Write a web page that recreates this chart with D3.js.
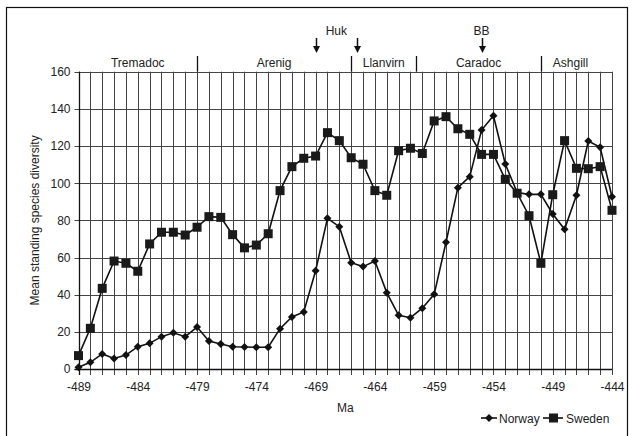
<!DOCTYPE html>
<html>
<head>
<meta charset="utf-8">
<script src="https://cdn.jsdelivr.net/npm/d3@7"></script>
<style>
  html, body { margin: 0; padding: 0; background: #fff; }
  svg { display: block; font-family: "Liberation Sans", Arial, sans-serif; }
</style>
</head>
<body>
<svg id="chart" width="634" height="436"></svg>
<script>
// Time axis (Ma) and mean standing species diversity per 1 Ma interval
const ages = d3.range(-489, -443, 1);
const norway = [0.9, 3.6, 8.1, 5.7, 7.5, 12, 13.8, 17.4, 19.5, 17.4,
                22.6, 15.1, 13.5, 12, 11.8, 11.7, 11.7, 21.7, 28, 30.7,
                52.9, 81.1, 76.6, 57.2, 55.1, 58.1, 41.1, 28.9, 27.6, 32.7,
                40.2, 68.2, 97.6, 103.5, 128.6, 136.3, 110.3, 95, 94, 94,
                83.4, 75.2, 93.5, 122.7, 119.3, 92.7];
const sweden = [7.2, 21.9, 43.4, 58.1, 56.9, 52.6, 67.3, 73.6, 73.6, 72.1,
                76.3, 82, 81.6, 72.3, 65.2, 66.7, 72.8, 96, 108.9, 113.4,
                114.6, 127.2, 122.9, 113.7, 110.2, 96, 93.5, 117.5, 118.8, 116,
                133.5, 135.8, 129.3, 126.3, 115.5, 115.5, 102.1, 94.6, 82.5, 56.9,
                93.8, 122.9, 108, 107.8, 108.9, 85.4];

const xTicks = [-489, -484, -479, -474, -469, -464, -459, -454, -449, -444];
const yTicks = [0, 20, 40, 60, 80, 100, 120, 140, 160];

// Stratigraphic series and their boundaries (Ma)
const stageBounds = [-479, -466, -460.5, -450];
const stageNames = ["Tremadoc", "Arenig", "Llanvirn", "Caradoc", "Ashgill"];
const stageEdges = [-489, -479, -466, -460.5, -450, -445];

// Event markers
const hukArrows = [-469, -465.5];
const bbArrows = [-455];

const svg = d3.select("#chart");
const x = d3.scaleLinear().domain([-489, -444]).range([78.5, 612]);
const y = d3.scaleLinear().domain([0, 160]).range([369, 71.7]);

// Outer frame
svg.append("rect")
  .attr("x", 6.5).attr("y", 7.5).attr("width", 621).attr("height", 445)
  .attr("fill", "none").attr("stroke", "#111").attr("stroke-width", 1.2);

const grid = svg.append("g").attr("stroke", "#444").attr("stroke-width", 1);
// vertical grid every 1 Ma, extending below the axis as ticks
grid.selectAll("line.v").data(ages).join("line")
  .attr("x1", d => Math.round(x(d)) + 0.5).attr("x2", d => Math.round(x(d)) + 0.5)
  .attr("y1", y(160)).attr("y2", y(0) + 6);
// horizontal grid every 20
grid.selectAll("line.h").data(yTicks).join("line")
  .attr("y1", d => Math.round(y(d)) + 0.5).attr("y2", d => Math.round(y(d)) + 0.5)
  .attr("x1", x(-489) - 4).attr("x2", x(-444));

// Axes (labels only; lines drawn separately)
const fmt = d => String(d);
const xAxis = svg.append("g").attr("transform", `translate(0,${y(0)})`)
  .call(d3.axisBottom(x).tickValues(xTicks).tickFormat(fmt).tickSize(0).tickPadding(13));
xAxis.select(".domain").remove();
xAxis.selectAll("text").attr("font-size", 12).attr("fill", "#222")
  .attr("font-family", "Liberation Sans, Arial, sans-serif");

const yAxis = svg.append("g").attr("transform", `translate(${x(-489)},0)`)
  .call(d3.axisLeft(y).tickValues(yTicks).tickFormat(fmt).tickSize(0).tickPadding(8));
yAxis.select(".domain").remove();
yAxis.selectAll("text").attr("font-size", 12).attr("fill", "#222")
  .attr("font-family", "Liberation Sans, Arial, sans-serif");

// axis lines
svg.append("line").attr("x1", x(-489) - 4).attr("x2", x(-444))
  .attr("y1", Math.round(y(0)) + 0.5).attr("y2", Math.round(y(0)) + 0.5)
  .attr("stroke", "#111").attr("stroke-width", 1.3);
svg.append("line").attr("x1", Math.round(x(-489)) + 0.5).attr("x2", Math.round(x(-489)) + 0.5)
  .attr("y1", y(160)).attr("y2", y(0) + 6)
  .attr("stroke", "#111").attr("stroke-width", 1.3);

// Axis titles
svg.append("text").attr("x", (x(-489) + x(-444)) / 2).attr("y", 412)
  .attr("text-anchor", "middle").attr("font-size", 12).attr("fill", "#222").text("Ma");
svg.append("text")
  .attr("transform", `translate(39,${(y(0) + y(160)) / 2}) rotate(-90)`)
  .attr("text-anchor", "middle").attr("font-size", 12).attr("fill", "#222")
  .text("Mean standing species diversity");

// Stage boundaries and names above the plot
svg.append("g").selectAll("line").data(stageBounds).join("line")
  .attr("x1", d => Math.round(x(d)) + 0.5).attr("x2", d => Math.round(x(d)) + 0.5)
  .attr("y1", 56).attr("y2", y(160))
  .attr("stroke", "#111").attr("stroke-width", 1.3);
svg.append("g").selectAll("text").data(stageNames).join("text")
  .attr("x", (d, i) => (x(stageEdges[i]) + x(stageEdges[i + 1])) / 2)
  .attr("y", 67).attr("text-anchor", "middle").attr("font-size", 12).attr("fill", "#222")
  .text(d => d);

// Event arrows
function arrow(g, xv) {
  const px = Math.round(x(xv)) + 0.5;
  g.append("line").attr("x1", px).attr("x2", px).attr("y1", 38).attr("y2", 47)
    .attr("stroke", "#111").attr("stroke-width", 1.5);
  g.append("path").attr("d", `M${px - 3.5},46 L${px + 3.5},46 L${px},53 Z`).attr("fill", "#111");
}
const ev = svg.append("g");
hukArrows.forEach(v => arrow(ev, v));
bbArrows.forEach(v => arrow(ev, v));
svg.append("text").attr("x", (x(hukArrows[0]) + x(hukArrows[1])) / 2).attr("y", 35)
  .attr("text-anchor", "middle").attr("font-size", 12).attr("fill", "#222").text("Huk");
svg.append("text").attr("x", x(bbArrows[0])).attr("y", 35)
  .attr("text-anchor", "middle").attr("font-size", 12).attr("fill", "#222").text("BB");

// Series
const line = d3.line().x((d, i) => x(ages[i])).y(d => y(d));
const diamond = (cx, cy, r) => `M${cx},${cy - r} L${cx + r},${cy} L${cx},${cy + r} L${cx - r},${cy} Z`;

svg.append("path").datum(norway).attr("d", line)
  .attr("fill", "none").attr("stroke", "#111").attr("stroke-width", 1.6);
svg.append("g").selectAll("path").data(norway).join("path")
  .attr("d", (d, i) => diamond(x(ages[i]), y(d), 4)).attr("fill", "#111");

svg.append("path").datum(sweden).attr("d", line)
  .attr("fill", "none").attr("stroke", "#111").attr("stroke-width", 1.6);
svg.append("g").selectAll("rect").data(sweden).join("rect")
  .attr("x", (d, i) => x(ages[i]) - 4.5).attr("y", d => y(d) - 4.5)
  .attr("width", 9).attr("height", 9).attr("fill", "#1a1a1a");

// Legend
const lg = svg.append("g").attr("transform", "translate(0,418)");
lg.append("line").attr("x1", 481).attr("x2", 497).attr("y1", 0).attr("y2", 0)
  .attr("stroke", "#111").attr("stroke-width", 1.6);
lg.append("path").attr("d", diamond(489, 0, 4)).attr("fill", "#111");
lg.append("text").attr("x", 499).attr("y", 4.5).attr("font-size", 12).attr("fill", "#222").text("Norway");
lg.append("line").attr("x1", 543).attr("x2", 563).attr("y1", 0).attr("y2", 0)
  .attr("stroke", "#111").attr("stroke-width", 1.6);
lg.append("rect").attr("x", 549).attr("y", -4.5).attr("width", 9).attr("height", 9).attr("fill", "#1a1a1a");
lg.append("text").attr("x", 566).attr("y", 4.5).attr("font-size", 12).attr("fill", "#222").text("Sweden");
</script>
</body>
</html>
